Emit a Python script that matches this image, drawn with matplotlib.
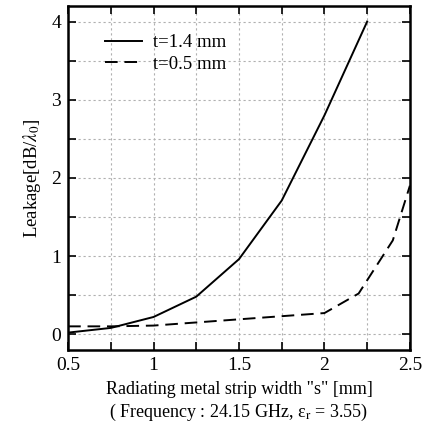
import matplotlib.pyplot as plt
from matplotlib.ticker import MultipleLocator, NullFormatter

plt.rcParams["font.family"] = ["Liberation Serif", "DejaVu Serif"]
plt.rcParams["mathtext.fontset"] = "stix"

# data
x_thick = [0.5, 0.75, 1.0, 1.25, 1.5, 1.75, 2.0, 2.25]
y_thick = [0.02, 0.08, 0.22, 0.48, 0.96, 1.71, 2.8, 4.0]
x_thin = [0.5, 0.75, 1.0, 1.25, 1.5, 1.75, 2.0, 2.2, 2.4, 2.5]
y_thin = [0.10, 0.10, 0.11, 0.15, 0.19, 0.23, 0.27, 0.52, 1.2, 1.9]

fig = plt.figure(figsize=(4.23, 4.24), dpi=100)
ax = fig.add_axes([0.161, 0.175, 0.808, 0.811])

ax.plot(x_thick, y_thick, color="black", lw=1.4, label="t=1.4 mm")
ax.plot(x_thin, y_thin, color="black", lw=1.4, ls=(0, (6.5, 3.5)), label="t=0.5 mm")

ax.set_xlim(0.5, 2.5)
ax.set_ylim(-0.2, 4.2)
ax.xaxis.set_major_locator(MultipleLocator(0.5))
ax.xaxis.set_minor_locator(MultipleLocator(0.25))
ax.yaxis.set_major_locator(MultipleLocator(1))
ax.yaxis.set_minor_locator(MultipleLocator(0.5))
ax.xaxis.set_minor_formatter(NullFormatter())
ax.xaxis.set_major_formatter(plt.FuncFormatter(lambda v, p: f"{v:g}"))
ax.tick_params(which="both", direction="in", length=6, width=1.2,
               top=True, right=True, labelsize=14, pad=5)
ax.grid(which="both", color="#b0b0b0", ls=(0, (2, 2.5)), lw=0.8)
for s in ax.spines.values():
    s.set_linewidth(1.8)

ax.set_ylabel(r"Leakage[dB/$\lambda_0$]", fontsize=13.5, labelpad=6)
ax.set_xlabel('Radiating metal strip width "s" [mm]\n'
              r'( Frequency : 24.15 GHz, ε$_\mathrm{r}$ = 3.55)',
              fontsize=13, linespacing=1.25, labelpad=5)

ax.legend(loc="upper left", frameon=False, fontsize=13.5, handlelength=2.0,
          handletextpad=0.6, labelspacing=0.25,
          borderaxespad=0.0, bbox_to_anchor=(0.085, 0.94))

fig.savefig("out.png", dpi=100)
